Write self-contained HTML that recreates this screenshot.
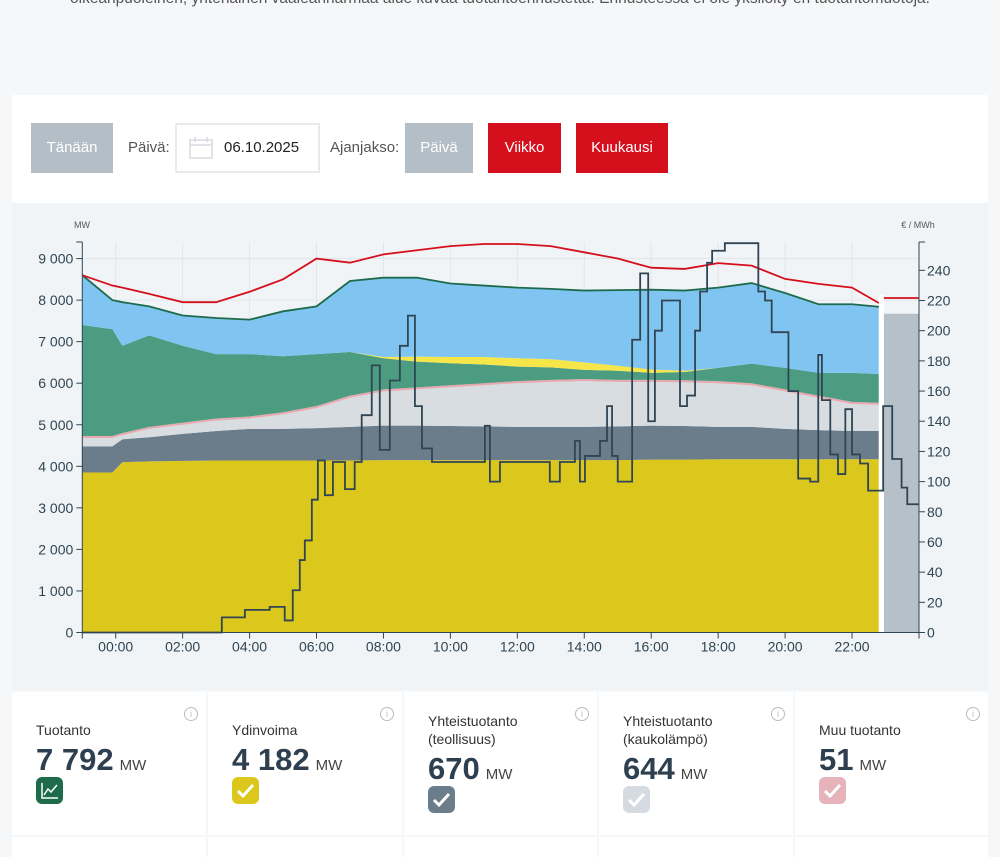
<!DOCTYPE html>
<html><head><meta charset="utf-8">
<style>
*{box-sizing:border-box;margin:0;padding:0}
body{width:1000px;height:850px;overflow:hidden;background:#f5f7f9;font-family:"Liberation Sans",sans-serif;position:relative;color:#333}
.intro{position:absolute;top:-10px;left:0;width:1000px;text-align:center;font-size:15.5px;color:#555;white-space:nowrap}
.toolbar{position:absolute;left:12px;top:95px;width:976px;height:108px;background:#fff}
.btn{position:absolute;top:28px;height:50px;line-height:50px;text-align:center;font-size:15px;color:#fff}
.grey{background:#b3bec6}
.red{background:#d50f1c}
.lbl{position:absolute;top:28px;line-height:50px;font-size:15px;color:#555}
.date{position:absolute;left:163px;top:28px;width:145px;height:50px;border:2px solid #e8ebee;font-size:15px;line-height:46px;padding-left:47px;color:#222}
.chartbg{position:absolute;left:12px;top:203px;width:976px;height:487px;background:#f1f4f7}
svg text{font-family:"Liberation Sans",sans-serif}
.card{position:absolute;top:692px;height:143px;background:#fff}
.card2{position:absolute;top:837px;height:20px;background:#fff}
.ct{position:absolute;left:24px;font-size:14px;color:#333;line-height:18px}
.cv{position:absolute;left:24px;font-size:31px;font-weight:bold;color:#2e3f4f}
.cv span{font-size:15px;font-weight:normal;color:#444;margin-left:6px}
.ic{position:absolute;left:24px;width:27px;height:27px;border-radius:6px}
.info{position:absolute;right:8px;top:15px;width:14px;height:14px;border:1px solid #bbb;border-radius:50%;font-size:9px;color:#bbb;text-align:center;line-height:12px}
</style></head><body>
<div class="intro">oikeanpuoleinen, yhtenäinen vaaleanharmaa alue kuvaa tuotantoennustetta. Ennusteessa ei ole yksilöity eri tuotantomuotoja.</div>
<div class="toolbar">
 <div class="btn grey" style="left:19px;width:82px">Tänään</div>
 <div class="lbl" style="left:116px">Päivä:</div>
 <div class="date">06.10.2025
  <svg style="position:absolute;left:12px;top:12px" width="24" height="22" viewBox="0 0 24 22"><rect x="1" y="3" width="22" height="18" fill="none" stroke="#d5dbe0" stroke-width="1.5"/><line x1="1" y1="8" x2="23" y2="8" stroke="#d5dbe0" stroke-width="1.5"/><line x1="6" y1="0" x2="6" y2="5" stroke="#d5dbe0" stroke-width="1.5"/><line x1="18" y1="0" x2="18" y2="5" stroke="#d5dbe0" stroke-width="1.5"/></svg>
 </div>
 <div class="lbl" style="left:318px">Ajanjakso:</div>
 <div class="btn grey" style="left:393px;width:68px">Päivä</div>
 <div class="btn red" style="left:476px;width:73px">Viikko</div>
 <div class="btn red" style="left:564px;width:92px">Kuukausi</div>
</div>
<div class="chartbg"></div>
<svg id="chart" style="position:absolute;left:0;top:0" width="1000" height="690"></svg>

<div class="card" style="left:12px;width:194px"><div class="info">i</div><div class="ct" style="top:29px">Tuotanto</div><div class="cv" style="top:50px">7 792<span>MW</span></div><div class="ic" style="top:85px;background:#1e6b4c"><svg width="27" height="27"><polyline points="6,6 6,21 22,21" fill="none" stroke="#fff" stroke-width="1.5"/><polyline points="8,18 12,12 15,15 21,8" fill="none" stroke="#fff" stroke-width="1.5"/></svg></div></div>
<div class="card" style="left:208px;width:194px"><div class="info">i</div><div class="ct" style="top:29px">Ydinvoima</div><div class="cv" style="top:50px">4 182<span>MW</span></div><div class="ic" style="top:85px;background:#dcc81c"><svg width="27" height="27"><polyline points="6,14 11,19 21,8" fill="none" stroke="#fff" stroke-width="3"/></svg></div></div>
<div class="card" style="left:404px;width:193px"><div class="info">i</div><div class="ct" style="top:20px">Yhteistuotanto<br>(teollisuus)</div><div class="cv" style="top:59px">670<span>MW</span></div><div class="ic" style="top:94px;background:#6b7d8a"><svg width="27" height="27"><polyline points="6,14 11,19 21,8" fill="none" stroke="#fff" stroke-width="3"/></svg></div></div>
<div class="card" style="left:599px;width:194px"><div class="info">i</div><div class="ct" style="top:20px">Yhteistuotanto<br>(kaukolämpö)</div><div class="cv" style="top:59px">644<span>MW</span></div><div class="ic" style="top:94px;background:#d5dbe0"><svg width="27" height="27"><polyline points="6,14 11,19 21,8" fill="none" stroke="#fff" stroke-width="3"/></svg></div></div>
<div class="card" style="left:795px;width:193px"><div class="info">i</div><div class="ct" style="top:29px">Muu tuotanto</div><div class="cv" style="top:50px">51<span>MW</span></div><div class="ic" style="top:85px;background:#e6b3bb"><svg width="27" height="27"><polyline points="6,14 11,19 21,8" fill="none" stroke="#fff" stroke-width="3"/></svg></div></div>
<div class="card2" style="left:12px;width:194px"></div><div class="card2" style="left:208px;width:194px"></div><div class="card2" style="left:404px;width:193px"></div><div class="card2" style="left:599px;width:194px"></div><div class="card2" style="left:795px;width:193px"></div>

<script>
const times    = [-1,-0.1,0.2,1,2,3,4,5,6,7,8,9,10,11,12,13,14,15,16,17,18,19,20,21,22,22.8];
const nuclear  = [3850,3850,4100,4120,4130,4140,4140,4140,4140,4140,4150,4150,4150,4150,4150,4150,4150,4150,4160,4160,4170,4170,4170,4170,4170,4170];
const chpInd   = [630,630,550,580,650,710,760,760,780,810,830,830,820,810,800,800,800,810,820,810,780,780,730,700,680,680];
const chpDist  = [200,200,100,200,220,250,250,350,480,700,820,870,930,990,1050,1080,1100,1070,1050,1050,1050,1000,900,780,650,630];
const other    = [50,50,50,50,50,50,50,50,50,50,50,50,50,50,50,50,50,50,50,50,50,50,50,50,50,50];
const hydro    = [2670,2570,2100,2200,1850,1550,1500,1350,1250,1050,750,620,530,450,350,300,220,220,170,200,320,470,520,550,700,690];
const solar    = [0,0,0,0,0,0,0,0,0,0,30,120,150,180,200,200,180,120,80,30,0,0,0,0,0,0];
const wind     = [1200,700,1050,700,730,870,830,1080,1150,1710,1910,1900,1770,1720,1700,1690,1730,1820,1920,1930,1930,1940,1800,1650,1650,1620];
const consumption = [8600,8350,8300,8150,7950,7950,8200,8500,9000,8900,9100,9200,9300,9350,9350,9300,9150,9000,8780,8750,8890,8830,8510,8390,8300,7930];
const priceTimes  = [-1,3.17,3.86,4.6,5.05,5.29,5.5,5.65,5.86,6.04,6.25,6.49,6.85,7.14,7.35,7.65,7.89,8.19,8.49,8.73,8.94,9.15,9.45,11.03,11.18,11.48,12.97,13.27,13.72,13.87,14.02,14.47,14.68,14.83,15.0,15.43,15.67,15.91,16.11,16.32,16.86,17.07,17.31,17.46,17.67,17.82,18.2,19.2,19.4,19.6,20.1,20.39,20.75,20.99,21.1,21.35,21.58,21.8,22.0,22.24,22.48,22.93,23.2,23.48,23.65];
const priceValues = [0,10,15,17,8,28,48,61,88,114,91,113,95,113,144,177,121,167,190,210,150,122,113,137,100,113,100,113,127,100,117,127,150,117,100,194,238,140,200,220,150,157,200,226,245,253,258,226,220,199,160,102,100,184,154,118,105,148,118,112,94,150,115,96,85];
const forecastTimes = [22.95,24];
const forecastTotal = [7670,7670];
const forecastConsumption = [8050,8050];
const mwTicks = [0,1000,2000,3000,4000,5000,6000,7000,8000,9000];
const priceTicks = [0,20,40,60,80,100,120,140,160,180,200,220,240];
const hourTicks = [0,2,4,6,8,10,12,14,16,18,20,22];

const NS='http://www.w3.org/2000/svg';
const svg=document.getElementById('chart');
const X0=82.3, X1=919, TOP=242, BOT=632.5;
const xOf=h=>115.7+h*33.47;
const yMW=v=>BOT-v*0.04155;
const yP=p=>BOT-p*1.509;
function mk(tag,attrs,parent){const e=document.createElementNS(NS,tag);for(const k in attrs)e.setAttribute(k,attrs[k]);(parent||svg).appendChild(e);return e;}
const fmt=v=>v>=1000?Math.floor(v/1000)+' '+String(v%1000).padStart(3,'0'):String(v);

hourTicks.forEach(h=>{const l=mk('line',{x1:xOf(h),x2:xOf(h),y1:TOP,y2:BOT,stroke:'#e1e6eb','stroke-width':1});

});
mwTicks.forEach(v=>{const l=mk('line',{x1:X0,x2:X1,y1:yMW(v),y2:yMW(v),stroke:'#e1e6eb','stroke-width':1});

});

const layers=[[nuclear,'#dcc81c','nuclear-area'],[chpInd,'#6b7d8a','chp-industry-area'],[chpDist,'#d8dde2','chp-district-area'],[other,'#e8a9b0','other-area'],[hydro,'#4c9c82','hydro-area'],[solar,'#f6e64a','solar-area'],[wind,'#80c5f1','wind-area']];
let base=times.map(()=>0);
const totals=[];
layers.forEach(([arr,col,name])=>{
  const top=base.map((b,i)=>b+arr[i]);
  let pts=times.map((t,i)=>xOf(t)+','+yMW(top[i])).join(' ');
  pts+=' '+times.slice().reverse().map((t,j)=>{const i=times.length-1-j;return xOf(t)+','+yMW(base[i]);}).join(' ');
  const p=mk('polygon',{points:pts,fill:col});
  
  
  base=top;
});
base.forEach(v=>totals.push(v));

const fa=mk('polygon',{points:xOf(forecastTimes[0])+','+yMW(forecastTotal[0])+' '+xOf(forecastTimes[1])+','+yMW(forecastTotal[1])+' '+xOf(forecastTimes[1])+','+BOT+' '+xOf(forecastTimes[0])+','+BOT,fill:'#b5c0c8'});


const gap=mk('rect',{x:xOf(times[times.length-1]),y:yMW(totals[totals.length-1])-12,width:xOf(forecastTimes[0])-xOf(times[times.length-1]),height:BOT-yMW(totals[totals.length-1])+12,fill:'#ffffff'});



const tl=mk('polyline',{points:times.map((t,i)=>xOf(t)+','+yMW(totals[i])).join(' '),fill:'none',stroke:'#1e6b4c','stroke-width':1.8});


const cl=mk('polyline',{points:times.map((t,i)=>xOf(t)+','+yMW(consumption[i])).join(' '),fill:'none',stroke:'#d50f1c','stroke-width':1.8});


const fcl=mk('polyline',{points:forecastTimes.map((t,i)=>xOf(t)+','+yMW(forecastConsumption[i])).join(' '),fill:'none',stroke:'#d50f1c','stroke-width':1.8});



let pp=[];
priceTimes.forEach((t,i)=>{const tn=i<priceTimes.length-1?priceTimes[i+1]:24;pp.push(xOf(t)+','+yP(priceValues[i]));pp.push(xOf(tn)+','+yP(priceValues[i]));});
const pl=mk('polyline',{points:pp.join(' '),fill:'none',stroke:'#2f4553','stroke-width':1.8});



const la=mk('line',{x1:X0,x2:X0,y1:TOP,y2:BOT+6,stroke:'#2f4553','stroke-width':1});


const ra=mk('line',{x1:X1,x2:X1,y1:TOP,y2:BOT+6,stroke:'#2f4553','stroke-width':1});


const ba=mk('line',{x1:X0,x2:X1,y1:BOT,y2:BOT,stroke:'#2f4553','stroke-width':1});


mk('line',{x1:X0-6,x2:X0,y1:TOP,y2:TOP,stroke:'#2f4553'});
mk('line',{x1:X1,x2:X1+6,y1:TOP,y2:TOP,stroke:'#2f4553'});
mwTicks.forEach(v=>{mk('line',{x1:X0-6,x2:X0,y1:yMW(v),y2:yMW(v),stroke:'#2f4553'});
const t=mk('text',{x:X0-9,y:yMW(v)+5,'text-anchor':'end','font-size':14,fill:'#2f4553'});t.textContent=fmt(v);

});
priceTicks.forEach(v=>{mk('line',{x1:X1,x2:X1+6,y1:yP(v),y2:yP(v),stroke:'#2f4553'});
const t=mk('text',{x:X1+8,y:yP(v)+5,'font-size':14,fill:'#2f4553'});t.textContent=String(v);

});
hourTicks.forEach(h=>{mk('line',{x1:xOf(h),x2:xOf(h),y1:BOT,y2:BOT+6,stroke:'#2f4553'});
const t=mk('text',{x:xOf(h),y:BOT+19,'text-anchor':'middle','font-size':14,fill:'#2f4553'});t.textContent=String(h).padStart(2,'0')+':00';

});
const u1=mk('text',{x:82,y:228,'text-anchor':'middle','font-size':9,fill:'#555'});u1.textContent='MW';


const u2=mk('text',{x:918,y:228,'text-anchor':'middle','font-size':9,fill:'#555'});u2.textContent='€ / MWh';


</script>
</body></html>
